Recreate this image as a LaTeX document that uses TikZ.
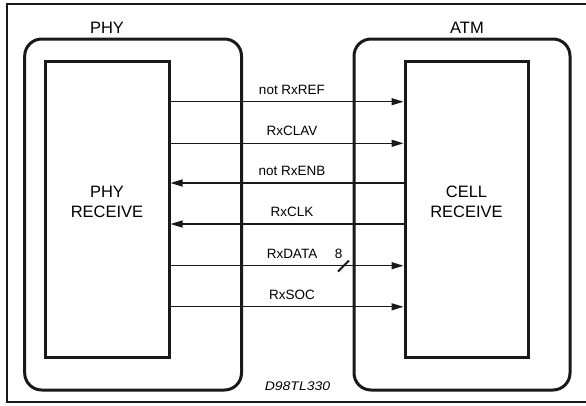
\documentclass[tikz,border=0pt]{standalone}
\usepackage{fontspec}
\setmainfont{Liberation Sans}
\usetikzlibrary{arrows.meta}
\tikzset{
  outerbox/.style={draw=black!90, line width=3pt, rounded corners=17pt, minimum width=216pt, minimum height=351pt, inner sep=0pt},
  innerbox/.style={draw=black!90, line width=3pt, minimum width=123pt, minimum height=296.3pt, inner sep=0pt},
  sig/.style={draw=black!90, line width=1.3pt, -{Triangle[length=12pt,width=7pt]}},
  siglabel/.style={font=\fontsize{13.5}{15}\selectfont, anchor=base, inner sep=0pt},
  boxlabel/.style={font=\fontsize{16.5}{20}\selectfont, anchor=base, inner sep=0pt, align=center},
}
\begin{document}
\begin{tikzpicture}[x=1pt,y=-1pt]
\useasboundingbox (0,0) rectangle (586,405);
\clip (0,0) rectangle (586,405);
\draw[line width=2pt, draw=black!90] (620,4) -- (7.3,4) -- (7.3,402.3) -- (620,402.3);
% boxes
\node[outerbox, minimum width=216.8pt] (phyout) at (133.1,214.5) {};
\node[outerbox] (atmout) at (462,214.5) {};
\node[innerbox, minimum width=123.3pt] (phyin) at (107.35,209.15) {};
\node[innerbox] (atmin) at (466.5,209.15) {};
% headers
\node[boxlabel] (phyhdr) at (107,33) {PHY};
\node[boxlabel] (atmhdr) at (467,33) {ATM};
\node[boxlabel] (phytxt) at (107,197) {PHY};
\node[boxlabel] (phytxt2) at (107,217) {RECEIVE};
\node[boxlabel] (atmtxt) at (466.5,197) {CELL};
\node[boxlabel] (atmtxt2) at (466.5,217) {RECEIVE};
% connector endpoints
\foreach \n/\y in {1/101.7,2/143.3,3/183,4/224,5/265.7,6/306.8}{
  \coordinate (l\n) at (phyin.east |- 0,\y);
  \coordinate (r\n) at (atmin.west |- 0,\y);
}
\draw[sig] (l1) -- (r1);
\draw[sig] (l2) -- (r2);
\draw[sig] (r3) -- (l3);
\draw[sig] (r4) -- (l4);
\draw[sig] (l5) -- (r5);
\draw[sig] (l6) -- (r6);
% labels
\node[siglabel] (t1) at (292,94) {not RxREF};
\node[siglabel] (t2) at (292,135.5) {RxCLAV};
\node[siglabel] (t3) at (292,175.5) {not RxENB};
\node[siglabel] (t4) at (292,216.5) {RxCLK};
\node[siglabel] (t5) at (292,258) {RxDATA};
\node[siglabel] (t6) at (292,299) {RxSOC};
\node[siglabel] (t8) at (338.5,258) {8};
\coordinate (s1) at (338,271.5);
\coordinate (s2) at (349,260.5);
\draw[line width=2pt, draw=black!90] (s1) -- (s2);
\node[anchor=base, inner sep=0pt, font=\fontsize{12.5}{14}\selectfont\itshape] (code) at (297.5,390.5) {\scalebox{1.12}[1]{D98TL330}};
\end{tikzpicture}
\end{document}
